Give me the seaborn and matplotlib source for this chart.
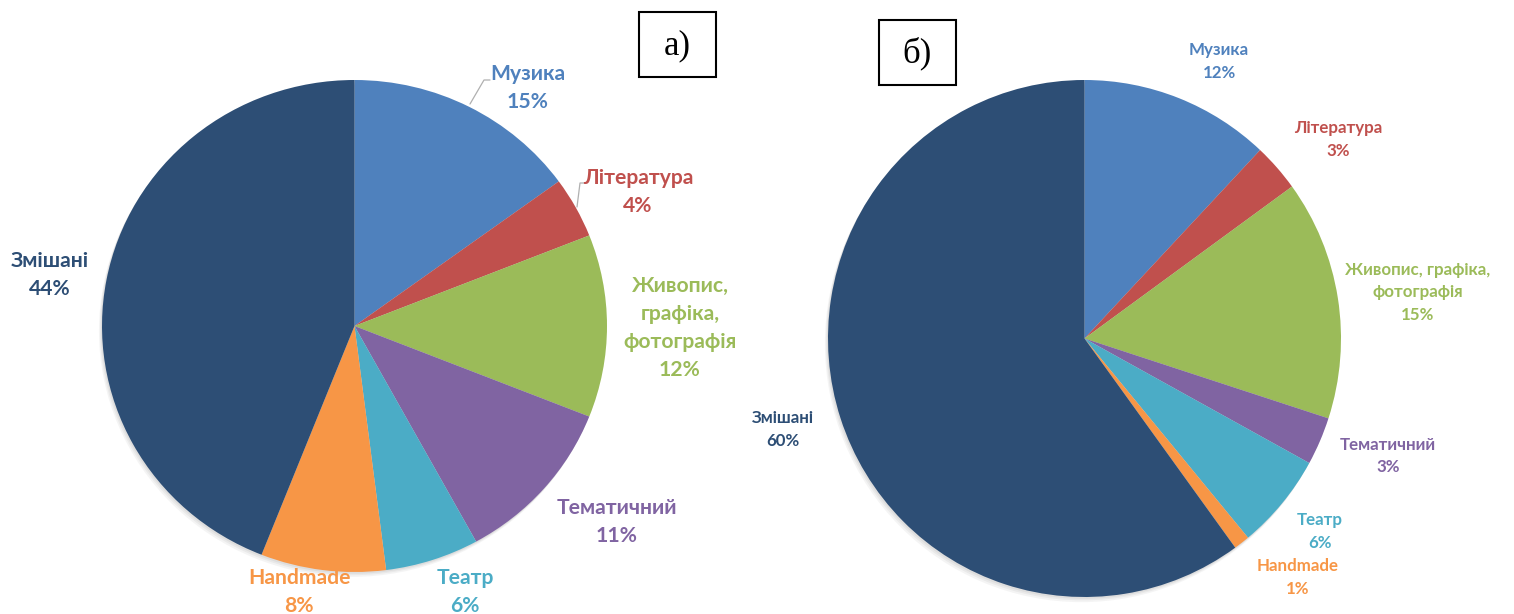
import matplotlib
matplotlib.use("Agg")
import matplotlib.pyplot as plt
import seaborn as sns

sns.set_theme(style="white")
plt.rcParams['font.family'] = ['Lato', 'DejaVu Sans']

# ---- data ----
categories = ["Музика", "Література", "Живопис, графіка, фотографія",
              "Тематичний", "Театр", "Handmade", "Змішані"]
values_a = [15, 4, 12, 11, 6, 8, 44]
values_b = [12, 3, 15, 3, 6, 1, 60]
labels_a = ["Музика", "Література", "Живопис,\nграфіка,\nфотографія",
            "Тематичний", "Театр", "Handmade", "Змішані"]
labels_b = ["Музика", "Література", "Живопис, графіка,\nфотографія",
            "Тематичний", "Театр", "Handmade", "Змішані"]
panel_titles = ["а)", "б)"]

colors = ["#4F81BD", "#C0504D", "#9BBB59", "#8064A2", "#4BACC6", "#F79646", "#2D4E75"]
palette = sns.color_palette(colors)

W, H = 1514, 614
fig = plt.figure(figsize=(W / 100, H / 100), dpi=100)
fig.patch.set_facecolor("white")


def fx(px):
    return px / W


def fy(py):
    return 1 - py / H


def make_pie(bbox, values):
    x0, y0, x1, y1 = bbox
    ax = fig.add_axes([fx(x0), fy(y1), fx(x1) - fx(x0), fy(y0) - fy(y1)])
    # soft shadow
    for dx, dy, a in [(-0.012, -0.02, 0.10), (-0.008, -0.013, 0.12), (-0.004, -0.007, 0.15)]:
        ax.pie([1], radius=1.0, center=(dx, dy), colors=["#9a9a9a"],
               wedgeprops=dict(alpha=a, linewidth=0))
    ax.pie(values, colors=palette, startangle=90, counterclock=False,
           wedgeprops=dict(linewidth=0))
    ax.set_aspect("auto")
    ax.set_xlim(-1.0, 1.0)
    ax.set_ylim(-1.0, 1.0)
    ax.axis("off")
    return ax


make_pie((102, 80, 607, 572), values_a)
make_pie((828, 80, 1341, 597), values_b)

# label positions (pixel centers of first line)
pos_a = [(528, 74), (638, 178), (680, 286), (617, 508), (465, 578), (299, 578), (50, 261)]
pos_b = [(1219, 50), (1338, 128), (1418, 270), (1388, 445), (1320, 520), (1298, 566), (783, 418)]


def put_labels(labels, values, pos, fs, lh):
    for lab, v, (x, y), c in zip(labels, values, pos, colors):
        lines = lab.split("\n") + [f"{v}%"]
        for k, line in enumerate(lines):
            fig.text(fx(x), fy(y + k * lh), line, color=c, fontsize=fs,
                     fontweight="bold", ha="center", va="center")


put_labels(labels_a, values_a, pos_a, 15.2, 28)
put_labels(labels_b, values_b, pos_b, 12.2, 22.5)

# leader lines for the left pie
lc = "#b0b0b0"
fig.add_artist(plt.Line2D([fx(470), fx(484), fx(490)], [fy(104), fy(80), fy(80)],
                          color=lc, lw=0.9))
fig.add_artist(plt.Line2D([fx(577), fx(580), fx(585)], [fy(207), fy(183), fy(183)],
                          color=lc, lw=0.9))

# panel boxes
for (x0, y0, x1, y1), t in zip([(639, 12, 716, 77), (879, 20, 956, 85)], panel_titles):
    fig.add_artist(plt.Rectangle((fx(x0), fy(y1)), fx(x1) - fx(x0), fy(y0) - fy(y1),
                                 fill=False, edgecolor="black", lw=1.5,
                                 transform=fig.transFigure))
    fig.text(fx((x0 + x1) / 2), fy((y0 + y1) / 2 + 1), t, fontsize=25,
             family="Liberation Serif", ha="center", va="center", color="black")

fig.savefig("out.png", dpi=100, facecolor="white")
